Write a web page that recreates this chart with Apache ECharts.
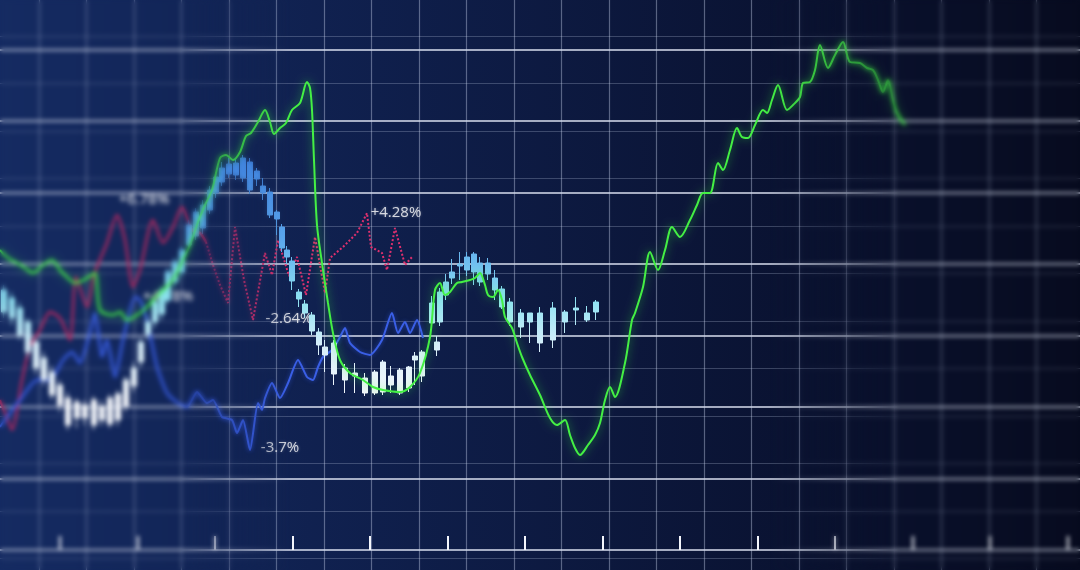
<!DOCTYPE html>
<html>
<head>
<meta charset="utf-8">
<title>market grid</title>
<script src="https://cdn.jsdelivr.net/npm/echarts@6/dist/echarts.min.js"></script>
<style>
  html, body { margin: 0; padding: 0; background: #0b1533; }
  #wrap { position: relative; width: 1080px; height: 570px; overflow: hidden; }
  #sharp, #soft { position: absolute; left: 0; top: 0; width: 1080px; height: 570px; }
  #soft {
    filter: blur(2px);
    -webkit-mask-image: linear-gradient(to right, #000 0, #000 180px, rgba(0,0,0,0) 290px, rgba(0,0,0,0) 770px, #000 900px);
    mask-image: linear-gradient(to right, #000 0, #000 180px, rgba(0,0,0,0) 290px, rgba(0,0,0,0) 770px, #000 900px);
  }
</style>
</head>
<body>
<div id="wrap">
  <div id="sharp"></div>
  <div id="soft"></div>
</div>
<script>
// x = time step, y = level (drawn top-down, like the screen)
const greenLine = [[0,250],[8,258],[17,263],[25,268],[33,273],[42,266],[52,260],[60,270],[67,277],[75,283],[87,278],[95,273],[100,310],[113,315],[120,312],[127,320],[140,313],[147,307],[153,300],[163,290],[173,280],[182,262],[190,245],[198,222],[205,205],[212,190],[220,158],[226,155],[233,160],[240,152],[246,136],[251,133],[258,122],[265,110],[270,122],[274,134],[280,128],[286,123],[292,110],[300,103],[307,82],[310,88],[312,110],[314,160],[317,225],[322,263],[328,303],[333,333],[340,360],[350,373],[363,380],[373,387],[383,390],[400,392],[410,387],[420,373],[430,337],[435,290],[440,283],[445,295],[450,292],[457,283],[462,282],[470,280],[475,278],[480,273],[485,285],[488,295],[493,297],[498,290],[502,300],[505,317],[512,328],[517,343],[522,357],[530,375],[540,395],[550,418],[557,425],[565,420],[570,435],[575,448],[580,455],[588,445],[595,435],[600,423],[605,400],[610,387],[615,397],[625,363],[632,320],[635,313],[643,287],[650,252],[658,270],[665,250],[672,227],[680,237],[690,220],[697,205],[703,193],[710,193],[718,163],[723,170],[730,150],[737,128],[742,137],[748,138],[755,125],[763,110],[767,113],[772,100],[778,85],[787,110],[793,105],[800,97],[803,83],[810,82],[815,70],[820,45],[828,68],[835,55],[843,42],[850,62],[860,63],[867,68],[873,70],[878,80],[883,92],[888,80],[893,100],[897,113],[905,125]];

const blueLine = [[0,427],[10,413],[20,400],[37,380],[50,380],[63,360],[72,352],[80,363],[88,340],[95,313],[102,357],[107,340],[115,377],[123,340],[135,297],[140,300],[147,320],[157,367],[167,393],[178,403],[187,407],[197,392],[207,403],[213,400],[222,417],[232,420],[237,433],[243,420],[250,450],[258,403],[262,410],[265,398],[272,383],[280,398],[288,383],[298,360],[307,377],[313,380],[318,367],[323,357],[332,350],[340,337],[345,328],[350,343],[360,352],[370,355],[382,340],[392,313],[398,333],[405,322],[410,333],[417,320],[423,338]];

const redLine = [[0,400],[6,415],[12,430],[22,380],[30,347],[40,330],[50,312],[60,318],[70,340],[76,277],[87,307],[94,275],[107,243],[117,215],[125,240],[133,287],[140,270],[153,220],[163,243],[173,227],[182,207],[192,230],[200,233],[206,242]];

const pinkLine = [[206,242],[213,265],[220,285],[228,303],[235,227],[244,280],[253,320],[265,253],[272,275],[278,240],[289,276],[297,257],[306,295],[315,237],[325,293],[330,258],[343,247],[357,233],[367,213],[371,247],[382,253],[387,270],[395,228],[405,265],[412,257]];

// [x, open, close, low, high]
const candles = [
  [4,290,312,285,318],[12,298,318,292,325],[20,308,335,302,340],[28,322,352,318,358],
  [36,342,368,338,374],[44,358,380,352,386],[52,372,395,366,400],[60,385,405,380,412],
  [68,398,425,392,430],[77,402,418,398,428],[85,405,418,400,425],[94,400,425,396,430],
  [102,406,420,400,426],[110,398,424,394,428],[118,394,420,390,426],[126,380,406,376,412],
  [134,368,386,362,392],[141,342,362,338,368],[148,322,334,316,340],[155,302,322,298,328],
  [162,290,314,286,320],[168,272,300,268,304],[175,262,282,258,288],[182,250,272,246,278],
  [189,225,245,220,250],[196,212,236,208,240],[203,205,228,200,234],[210,190,210,186,214],
  [216,177,193,172,198],[222,168,182,162,186],[229,164,174,158,178],
  [236,163,175,158,180],[243,158,178,155,182],[250,162,190,158,194],[257,171,179,168,186],
  [263,186,193,178,200],[270,192,215,188,218],[277,212,219,210,235],[282,227,248,224,252],
  [287,250,257,246,264],[292,261,281,257,290],[299,292,299,289,307],[305,304,313,300,318],
  [312,315,331,312,335],[319,332,345,328,355],[325,347,355,340,372],[334,343,374,340,385],
  [345,368,380,364,393],[355,373,376,363,393],[365,378,393,373,396],[375,372,393,370,395],
  [383,362,392,360,395],[391,376,385,366,393],[400,370,393,368,395],[409,367,388,366,392],
  [415,356,360,352,385],[422,352,376,350,382],[432,303,323,296,330],[437,342,350,336,356],
  [440,292,322,288,326],[446,282,295,274,300],[452,272,278,259,284],[460,264,266,252,280],
  [467,257,270,252,276],[474,254,272,252,285],[480,263,282,257,286],[488,263,274,258,280],
  [495,278,290,270,300],[502,289,307,286,309],[510,302,322,298,326],[521,313,327,309,338],
  [530,313,322,313,343],[540,313,343,307,352],[553,308,340,302,348],[565,312,322,310,333],
  [576,308,310,297,325],[587,313,320,306,322],[596,302,312,300,320]
];

const tags = [[144,200,'+6.78%'],[168,297,'+4.78%'],[289,319,'-2.64%'],[396,213,'+4.28%'],[280,448,'-3.7%']];

function buildOption(labels) {
  var candleColor = new echarts.graphic.LinearGradient(0, 150, 0, 400, [
    {offset: 0, color: '#3f84e4'},
    {offset: 0.35, color: '#5aa6ee'},
    {offset: 0.6, color: '#8ee2f2'},
    {offset: 0.78, color: '#d6eefa'},
    {offset: 1, color: '#f6f8fc'}
  ], true);
  var hidden = {axisLine: {show: false}, axisTick: {show: false}, axisLabel: {show: false}};

  var option = {
    animation: false,
    backgroundColor: new echarts.graphic.LinearGradient(0, 0, 1, 0, [
      {offset: 0, color: '#152b62'},
      {offset: 0.35, color: '#0f1f4c'},
      {offset: 0.65, color: '#0b1537'},
      {offset: 1, color: '#070b1f'}
    ]),
    grid: [
      // data
      {left: 0, right: 0, top: 0, bottom: 0},
      // thin vertical lines
      {left: 39, right: 43.5, top: 0, bottom: 0},
      // thin horizontal lines
      {left: 0, right: 0, top: 36, bottom: 11.5},
      // bright horizontal rules
      {left: 0, right: 0, top: 49.5, bottom: 20},
      // tick ruler
      {left: 60, right: 12.5, top: 0, bottom: 20}
    ],
    xAxis: [
      {gridIndex: 0, type: 'value', min: 0, max: 1080, show: false},
      Object.assign({gridIndex: 1, type: 'value', min: 0, max: 997.5, interval: 47.5,
        splitLine: {show: true, lineStyle: {color: 'rgba(205,215,240,0.4)', width: 1.2}}}, hidden),
      {gridIndex: 2, type: 'value', min: 0, max: 1, show: false},
      {gridIndex: 3, type: 'value', min: 0, max: 1, show: false},
      {gridIndex: 4, type: 'value', min: 0, max: 1007.5, interval: 77.5,
        axisLine: {show: false},
        axisTick: {show: true, inside: true, length: 14, lineStyle: {color: '#f4f6fc', width: 2}},
        axisLabel: {show: false}, splitLine: {show: false}}
    ],
    yAxis: [
      {gridIndex: 0, type: 'value', min: 0, max: 570, inverse: true, show: false},
      {gridIndex: 1, type: 'value', min: 0, max: 1, show: false},
      Object.assign({gridIndex: 2, type: 'value', min: 0, max: 522.5, interval: 47.5, inverse: true,
        splitLine: {show: true, lineStyle: {color: 'rgba(205,215,240,0.25)', width: 1}}}, hidden),
      Object.assign({gridIndex: 3, type: 'value', min: 0, max: 500.5, interval: 71.5, inverse: true,
        splitLine: {show: true, lineStyle: {color: 'rgba(225,230,245,0.72)', width: 2}}}, hidden),
      {gridIndex: 4, type: 'value', min: 0, max: 1, show: false}
    ],
    series: [
      {
        name: 'red', type: 'line', data: redLine, showSymbol: false, smooth: 0.25,
        lineStyle: {color: '#b3285f', width: 2.4}, z: 3
      },
      {
        name: 'pink', type: 'line', data: pinkLine, showSymbol: false,
        lineStyle: {color: '#e0306e', width: 2, type: [2, 2]}, z: 3
      },
      {
        name: 'blue', type: 'line', data: blueLine, showSymbol: false, smooth: 0.2,
        lineStyle: {color: '#3a5fe6', width: 2, shadowBlur: 4, shadowColor: 'rgba(60,100,255,0.5)'}, z: 4
      },
      {
        name: 'tags', type: 'scatter', data: labels, symbolSize: 0, z: 5,
        label: {
          show: true, position: 'inside', color: '#ffffff', fontSize: 15,
          fontFamily: 'Open Sans', textShadowBlur: 3, textShadowColor: 'rgba(255,255,255,0.45)',
          formatter: function (p) { return p.value[2]; }
        }
      },
      {
        name: 'candles', type: 'candlestick', data: candles, barWidth: 6, z: 6,
        itemStyle: {
          color: candleColor, color0: candleColor,
          borderColor: candleColor, borderColor0: candleColor, borderWidth: 1
        }
      },
      {
        name: 'green', type: 'line', data: greenLine, showSymbol: false, smooth: 0.3, z: 7,
        lineStyle: {color: '#44f044', width: 2, shadowBlur: 8, shadowColor: 'rgba(60,255,60,0.6)'}
      }
    ]
  };
  return option;
}

var sharpChart = echarts.init(document.getElementById('sharp'));
sharpChart.setOption(buildOption(tags.filter(function (t) { return t[0] > 200; })));

// the same picture again, blurred and faded in at both edges (out of focus)
var softChart = echarts.init(document.getElementById('soft'));
softChart.setOption(buildOption(tags.filter(function (t) { return t[0] <= 200; })));
</script>
</body>
</html>
